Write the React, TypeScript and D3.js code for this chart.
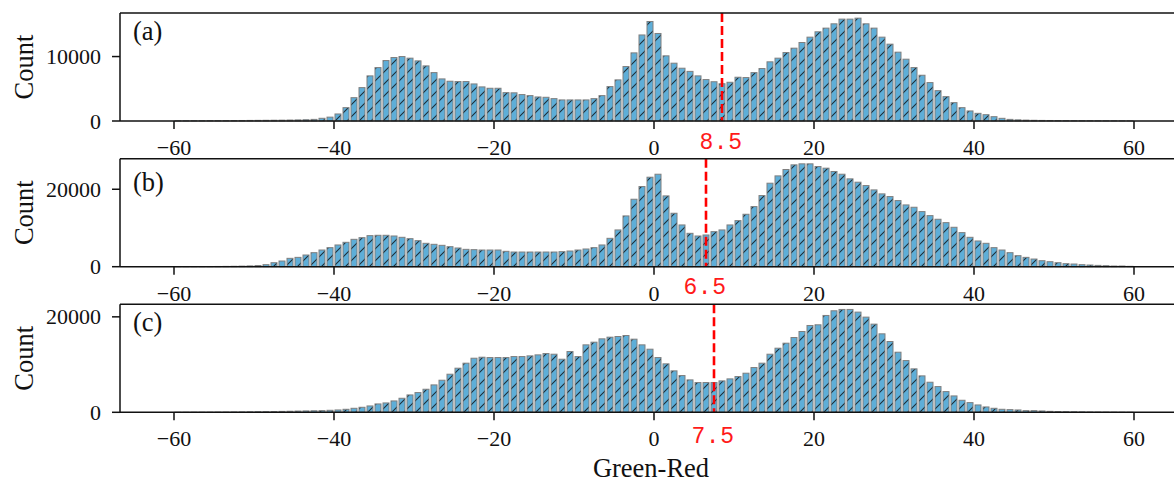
import React from 'react';
import * as d3 from 'd3';

// Bin left edges (bins of width 1 from -60 to 60)
const binEdges: number[] = d3.range(-60, 60);

const countsA: number[] = [
  30, 30, 40, 40, 50, 50, 60, 70, 80, 90,
  100, 110, 120, 130, 150, 170, 200, 250, 420, 600,
  1090, 2070, 3620, 5180, 7000, 8290, 9380, 9850, 10000, 9750,
  9330, 8550, 7510, 6530, 6170, 6120, 6120, 5750, 5290, 5080,
  5080, 4400, 4370, 4100, 3940, 3730, 3680, 3470, 3270, 3270,
  3270, 3270, 3470, 3940, 5340, 6380, 8450, 10570, 13350, 15440,
  13580, 10110, 8970, 8190, 7700, 7000, 6430, 6090, 5780, 6010,
  6790, 6740, 7510, 8140, 9180, 9750, 10620, 11300, 12180, 13010,
  13840, 14410, 15080, 15810, 15810, 15960, 15080, 14410, 13010, 11920,
  10680, 9590, 8290, 7100, 5960, 4710, 3780, 2850, 2070, 1560,
  1190, 980, 670, 415, 250, 180, 140, 110, 90, 80,
  70, 60, 50, 45, 40, 35, 30, 30, 25, 20,
];

const countsB: number[] = [
  20, 25, 30, 40, 50, 60, 80, 110, 150, 200,
  300, 520, 1030, 1470, 2160, 2410, 3020, 3620, 4310, 4920,
  5610, 6300, 7070, 7500, 8020, 8110, 8110, 7930, 7590, 7240,
  6730, 6040, 5780, 5520, 5170, 4830, 4480, 4400, 4310, 4310,
  4310, 3970, 3790, 3790, 3790, 3790, 3790, 3790, 3880, 4050,
  4310, 4570, 4920, 5610, 7330, 9490, 13110, 17420, 20700, 23110,
  23880, 18280, 13800, 10780, 8620, 7930, 8190, 9050, 9490, 10780,
  11900, 13540, 15520, 18370, 21560, 23450, 25100, 26300, 26560, 26560,
  25870, 25440, 24580, 23880, 22680, 21820, 20950, 19830, 18800, 18110,
  17070, 15950, 15350, 14230, 13190, 12250, 11380, 10180, 8800, 7590,
  6640, 6040, 4920, 4310, 3620, 2850, 2410, 1980, 1550, 1290,
  1030, 780, 690, 520, 430, 340, 260, 170, 170, 90,
];

const countsC: number[] = [
  20, 25, 30, 35, 40, 50, 60, 70, 80, 100,
  120, 140, 160, 190, 220, 260, 290, 320, 350, 420,
  490, 630, 840, 1050, 1330, 1750, 1960, 2380, 2940, 3640,
  4130, 4830, 5740, 6720, 7980, 9240, 10290, 11330, 11540, 11470,
  11470, 11470, 11680, 11680, 11820, 12030, 12310, 12170, 11120, 12730,
  11680, 14130, 14690, 15390, 15740, 15880, 16090, 15320, 14130, 13220,
  11470, 10150, 8680, 7700, 6790, 6230, 6230, 6230, 6580, 7000,
  7490, 8190, 9380, 10290, 12170, 13430, 14480, 15670, 16930, 18190,
  18330, 20290, 21270, 21550, 21550, 20990, 19940, 18470, 16440, 14830,
  12590, 10840, 9100, 7630, 6300, 5390, 4340, 3430, 2520, 2030,
  1540, 1120, 840, 630, 560, 490, 350, 350, 280, 200,
  160, 130, 110, 90, 70, 60, 50, 40, 30, 25,
];

const panelLabels: string[] = ['(a)', '(b)', '(c)'];
const thresholds: number[] = [8.5, 6.5, 7.5];
const thresholdLabels: string[] = ['8.5', '6.5', '7.5'];
const xTicks: number[] = [-60, -40, -20, 0, 20, 40, 60];
const yTicksA: number[] = [0, 10000];
const yTicksB: number[] = [0, 20000];
const yTicksC: number[] = [0, 20000];

const W = 1174;
const H = 482;
const LEFT = 120;
const RIGHT = 1188;
const PANEL_TOPS = [13, 158.7, 304.3];
const PANEL_H = 108;

const SERIF = '"Liberation Serif", "Times New Roman", serif';

export default function App() {
  const x = d3.scaleLinear().domain([-66.75, 66.75]).range([LEFT, RIGHT]);
  const series = [countsA, countsB, countsC];
  const yTicksAll = [yTicksA, yTicksB, yTicksC];
  const binW = x(1) - x(0);
  const barW = binW * 0.75;
  const tagY = [40, 191, 331];
  const thrLabelOff = [27.5, 27, 31];

  return (
    <svg
      width={W}
      height={H}
      style={{ position: 'absolute', left: 0, top: 0, background: '#fff' }}
      fontFamily={SERIF}
    >
      <defs>
        <pattern id="hatch" patternUnits="userSpaceOnUse" width={12} height={12}>
          <rect width={12} height={12} fill="#5eaed8" />
          <path d="M-3,3 L3,-3 M0,12 L12,0 M9,15 L15,9" stroke="#1c2d38" strokeWidth={1.1} />
        </pattern>
      </defs>
      {series.map((counts, pi) => {
        const top = PANEL_TOPS[pi];
        const bottom = top + PANEL_H;
        const ymax = (d3.max(counts) as number) * 1.05;
        const y = d3.scaleLinear().domain([0, ymax]).range([bottom, top]);
        const thr = thresholds[pi];
        return (
          <g key={pi}>
            {counts.map((c, i) => {
              const cx = x(binEdges[i] + 0.5);
              const yt = y(c);
              return (
                <rect
                  key={i}
                  x={cx - barW / 2}
                  y={yt}
                  width={barW}
                  height={Math.max(0, bottom - yt)}
                  fill="url(#hatch)"
                  stroke="#7f7f7f"
                  strokeWidth={1}
                />
              );
            })}
            <line
              x1={x(thr)}
              x2={x(thr)}
              y1={top}
              y2={bottom}
              stroke="#ff0000"
              strokeWidth={2.6}
              strokeDasharray="9,4"
            />
            <text
              x={x(thr) - 1}
              y={bottom + thrLabelOff[pi]}
              fill="#ff1a1a"
              fontSize={23}
              textAnchor="middle"
              letterSpacing={0.5}
              fontFamily='"Liberation Mono", "DejaVu Sans Mono", monospace'
            >
              {thresholdLabels[pi]}
            </text>
            <line x1={LEFT} x2={RIGHT} y1={top} y2={top} stroke="#111" strokeWidth={1.5} />
            <line x1={LEFT} x2={RIGHT} y1={bottom} y2={bottom} stroke="#111" strokeWidth={1.5} />
            <line x1={LEFT} x2={LEFT} y1={top} y2={bottom} stroke="#111" strokeWidth={1.5} />
            <line x1={RIGHT} x2={RIGHT} y1={top} y2={bottom} stroke="#111" strokeWidth={1.5} />
            {xTicks.map((t) => (
              <g key={t}>
                <line x1={x(t)} x2={x(t)} y1={bottom} y2={bottom + 8} stroke="#111" strokeWidth={1.5} />
                <text x={x(t)} y={bottom + 34} fontSize={22} textAnchor="middle" fill="#111">
                  {t < 0 ? '\u2212' + Math.abs(t) : String(t)}
                </text>
              </g>
            ))}
            {yTicksAll[pi].map((t) => (
              <g key={t}>
                <line x1={LEFT - 8} x2={LEFT} y1={y(t)} y2={y(t)} stroke="#111" strokeWidth={1.5} />
                <text x={LEFT - 19} y={y(t) + 7.5} fontSize={22} textAnchor="end" fill="#111">
                  {String(t)}
                </text>
              </g>
            ))}
            <text x={133} y={tagY[pi]} fontSize={26.5} fill="#111">
              {panelLabels[pi]}
            </text>
            <text
              transform={`translate(33, ${(top + bottom) / 2}) rotate(-90)`}
              fontSize={26.5}
              textAnchor="middle"
              fill="#111"
            >
              Count
            </text>
          </g>
        );
      })}
      <text x={(LEFT + RIGHT) / 2 - 3} y={477} fontSize={26.5} textAnchor="middle" fill="#111">
        Green-Red
      </text>
    </svg>
  );
}
